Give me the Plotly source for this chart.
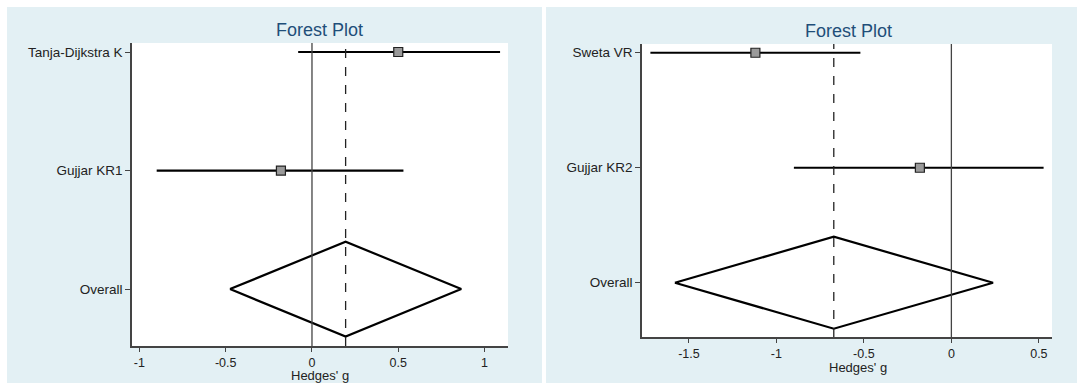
import plotly.graph_objects as go

# ---------------- data ----------------
left_studies = ["Tanja-Dijkstra K", "Gujjar KR1"]
left_est = [0.50, -0.18]
left_lo = [-0.08, -0.90]
left_hi = [1.09, 0.53]
left_overall = [0.195, -0.475, 0.865]  # est, lo, hi

right_studies = ["Sweta VR", "Gujjar KR2"]
right_est = [-1.12, -0.18]
right_lo = [-1.72, -0.90]
right_hi = [-0.52, 0.527]
right_overall = [-0.672, -1.58, 0.238]

left_ticks = [-1, -0.5, 0, 0.5, 1]
right_ticks = [-1.5, -1, -0.5, 0, 0.5]
tick_fmt = lambda v: ("%g" % v)

W, H = 1077, 383
BG = "#e3f0f4"
FONT = "Liberation Sans, Arial, sans-serif"
TF = 13.5
XTF = 12.5

# plot-area boxes in pixels (left, top, right, bottom)
L_BOX = (132, 43, 508, 346)
R_BOX = (642, 44, 1052, 337)

fig = go.Figure()

def add_panel(studies, est, lo, hi, overall, xa, ya):
    n = len(studies)
    ys = list(range(n + 1, 1, -1))
    for i in range(n):
        fig.add_trace(go.Scatter(x=[lo[i], hi[i]], y=[ys[i], ys[i]], mode="lines",
                                 line=dict(color="black", width=2.2),
                                 xaxis=xa, yaxis=ya, showlegend=False, hoverinfo="skip"))
    fig.add_trace(go.Scatter(x=est, y=ys, mode="markers",
                             marker=dict(symbol="square", size=9, color="#9a9a9a",
                                         line=dict(color="#222", width=1.2)),
                             xaxis=xa, yaxis=ya, showlegend=False))
    e, l, h = overall
    fig.add_trace(go.Scatter(x=[l, e, h, e, l], y=[1, 1.4, 1, 0.6, 1], mode="lines",
                             line=dict(color="black", width=2.2),
                             xaxis=xa, yaxis=ya, showlegend=False, hoverinfo="skip"))
    return ys

# panel backgrounds, then white plot areas
fig.add_shape(type="rect", xref="paper", yref="paper", x0=7 / W, x1=542 / W, y0=0, y1=1 - 7 / H,
              fillcolor=BG, line_width=0, layer="below")
fig.add_shape(type="rect", xref="paper", yref="paper", x0=546 / W, x1=1, y0=0, y1=1 - 7 / H,
              fillcolor=BG, line_width=0, layer="below")
for (x0, y0, x1, y1) in (L_BOX, R_BOX):
    fig.add_shape(type="rect", xref="paper", yref="paper", x0=x0 / W, x1=x1 / W,
                  y0=1 - y1 / H, y1=1 - y0 / H, fillcolor="white", line_width=0, layer="below")

ys_l = add_panel(left_studies, left_est, left_lo, left_hi, left_overall, "x", "y")
ys_r = add_panel(right_studies, right_est, right_lo, right_hi, right_overall, "x2", "y2")

for xr, yr, e in (("x", "y", left_overall[0]), ("x2", "y2", right_overall[0])):
    fig.add_shape(type="line", xref=xr, yref=yr + " domain", x0=0, x1=0, y0=0, y1=1,
                  line=dict(color="#444", width=1.3), layer="above")
    fig.add_shape(type="line", xref=xr, yref=yr + " domain", x0=e, x1=e, y0=0, y1=1,
                  line=dict(color="#222", width=1.3, dash="dash"), layer="above")

axis_common = dict(showgrid=False, zeroline=False, showline=True, linecolor="#444", linewidth=1.5,
                   ticks="outside", tickcolor="#444")
ycommon = dict(axis_common, ticklen=5, tickfont=dict(size=TF, color="#222", family=FONT))
xcommon = dict(axis_common, ticklen=4, tickfont=dict(size=XTF, color="#222", family=FONT))

fig.update_layout(
    width=W, height=H, margin=dict(l=0, r=0, t=0, b=0),
    paper_bgcolor="white", plot_bgcolor="rgba(0,0,0,0)",
    font=dict(family=FONT, color="#222"),
    xaxis=dict(domain=[L_BOX[0] / W, L_BOX[2] / W], range=[-1.043, 1.136], anchor="y",
               tickvals=left_ticks, ticktext=[tick_fmt(v) for v in left_ticks], **xcommon),
    yaxis=dict(domain=[1 - L_BOX[3] / H, 1 - L_BOX[1] / H], range=[0.52, 3.076], anchor="x",
               tickvals=ys_l + [1], ticktext=left_studies + ["Overall"], **ycommon),
    xaxis2=dict(domain=[R_BOX[0] / W, R_BOX[2] / W], range=[-1.768, 0.575], anchor="y2",
                tickvals=right_ticks, ticktext=[tick_fmt(v) for v in right_ticks], **xcommon),
    yaxis2=dict(domain=[1 - R_BOX[3] / H, 1 - R_BOX[1] / H], range=[0.528, 3.076], anchor="x2",
                tickvals=ys_r + [1], ticktext=right_studies + ["Overall"], **ycommon),
    annotations=[
        dict(text="Forest Plot", xref="paper", yref="paper", x=320 / W, y=1 - 30 / H,
             showarrow=False, font=dict(size=18, color="#1f4e79", family=FONT), xanchor="center", yanchor="middle"),
        dict(text="Forest Plot", xref="paper", yref="paper", x=848 / W, y=1 - 31 / H,
             showarrow=False, font=dict(size=18, color="#1f4e79", family=FONT), xanchor="center", yanchor="middle"),
        dict(text="Hedges' g", xref="paper", yref="paper", x=320 / W, y=1 - 375.5 / H,
             showarrow=False, font=dict(size=13, color="#222", family=FONT), xanchor="center", yanchor="middle"),
        dict(text="Hedges' g", xref="paper", yref="paper", x=858 / W, y=1 - 367 / H,
             showarrow=False, font=dict(size=13, color="#222", family=FONT), xanchor="center", yanchor="middle"),
    ],
)

fig.write_html("out.html", config={"displayModeBar": False},
               post_script="document.body.style.margin='0';document.body.style.overflow='hidden';")
